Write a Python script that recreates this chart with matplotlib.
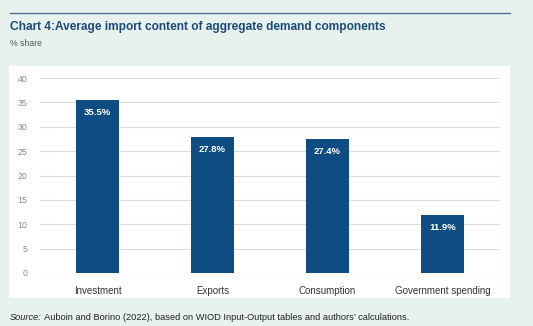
import matplotlib.pyplot as plt
from matplotlib.patches import Rectangle
import numpy as np

categories = ['Investment', 'Exports', 'Consumption', 'Government spending']
values = [35.5, 27.8, 27.4, 11.9]
yticks = [0, 5, 10, 15, 20, 25, 30, 35, 40]

bg = '#e7f2ef'
navy = '#0f4c81'
title_col = '#1c4a78'

plt.rcParams['font.family'] = ['Liberation Sans', 'DejaVu Sans']

W, H = 533, 326
fig = plt.figure(figsize=(W / 100, H / 100), dpi=100, facecolor=bg)

# top rule
fig.add_artist(plt.Line2D([10 / W, 510 / W], [1 - 13 / H, 1 - 13 / H],
                          color='#4f6f8a', lw=1.0))
fig.text(10 / W, 1 - 27 / H, 'Chart 4:Average import content of aggregate demand components',
         fontsize=8.6, fontweight='bold', color=title_col, va='center')
fig.text(10 / W, 1 - 44 / H, '% share', fontsize=6.3, color='#555555', va='center')

# white panel
fig.add_artist(Rectangle((9 / W, 1 - 298 / H), 501 / W, 232 / H,
                         transform=fig.transFigure, facecolor='white',
                         edgecolor='none', zorder=0))

ax = fig.add_axes([40 / W, 1 - 273 / H, 460 / W, 195 / H])
ax.set_facecolor('white')
x = np.arange(len(categories))
bars = ax.bar(x, values, width=0.38, color=navy, zorder=3)
for b, v in zip(bars, values):
    ax.text(b.get_x() + b.get_width() / 2, v - 1.6, f'{v:.1f}%',
            ha='center', va='top', color='white', fontsize=6.8, fontweight='bold', zorder=4)

ax.set_ylim(0, 40)
ax.set_xlim(-0.5, len(categories) - 0.5)
ax.set_yticks(yticks)
ax.set_xticks(x)
ax.set_xticklabels(categories, fontsize=7, color='#333333')
ax.tick_params(axis='y', labelsize=6.3, labelcolor='#8a8a8a', length=0, pad=9)
ax.tick_params(axis='x', length=0, pad=9)
ax.grid(axis='y', color='#dcdcdc', lw=0.8, zorder=0)
for s in ax.spines.values():
    s.set_visible(False)

# source line: italic label then the rest right after it
src_lbl = fig.text(10 / W, 1 - 318 / H, 'Source:', fontsize=6.7, style='italic',
                   color='#222222', va='center')
r = fig.canvas.get_renderer()
x_end = src_lbl.get_window_extent(r).x1 / fig.bbox.width
fig.text(x_end, 1 - 318 / H,
         ' Auboin and Borino (2022), based on WIOD Input-Output tables and authors\u2019 calculations.',
         fontsize=6.7, color='#222222', va='center')

fig.savefig('out.png', dpi=100, facecolor=bg)
